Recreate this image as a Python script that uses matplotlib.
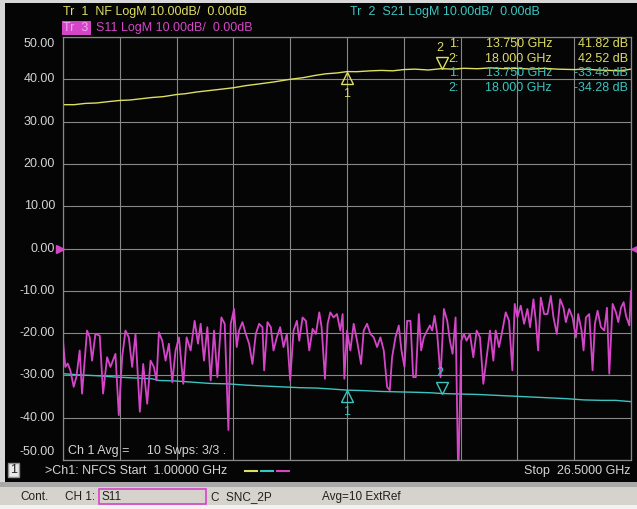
import numpy as np
import matplotlib
matplotlib.use("Agg")
import matplotlib.pyplot as plt
import matplotlib.transforms as mtransforms
from matplotlib.patches import Rectangle

plt.rcParams['font.family'] = ['Liberation Sans', 'DejaVu Sans']

# ---- sweep / marker data ----
f_start, f_stop = 1.0, 26.5
marker_f = [13.75, 18.0]
marker_nf = [41.82, 42.52]
marker_s21 = [-33.48, -34.28]

# Tr 1  NF (dB)
nf_f = [1.0, 1.5, 2.0, 2.5, 3.0, 3.55, 4.0, 4.5, 5.0, 5.5, 6.1, 6.5, 7.0, 7.5, 8.0,
        8.65, 9.2, 9.8, 10.5, 11.2, 11.8, 12.3, 12.8, 13.3, 13.75, 14.2, 14.8, 15.3,
        15.8, 16.3, 16.8, 17.4, 18.0, 18.5, 19.0, 19.6, 20.2, 20.8, 21.4, 22.0, 22.6,
        23.2, 23.95, 24.5, 25.0, 25.5, 26.0, 26.5]
nf_db = [34.0, 34.0, 34.3, 34.4, 34.7, 35.0, 35.1, 35.4, 35.7, 35.9, 36.4, 36.6, 37.0,
         37.3, 37.6, 38.0, 38.5, 38.9, 39.4, 40.0, 40.4, 40.9, 41.3, 41.5, 41.82, 41.8,
         42.0, 42.1, 42.0, 42.3, 42.4, 42.2, 42.52, 42.4, 42.6, 42.5, 42.7, 42.5, 42.6,
         42.4, 42.6, 42.4, 42.3, 42.4, 42.2, 42.1, 42.0, 42.4]

# Tr 2  S21 (dB)
s21_f = [1.0, 1.8, 2.6, 3.4, 4.2, 5.0, 5.3, 6.0, 6.8, 7.6, 8.4, 9.2, 10.0, 10.8, 11.6,
         12.4, 13.0, 13.75, 14.5, 15.3, 16.1, 16.9, 17.5, 18.0, 18.8, 19.6, 20.4, 21.2,
         22.0, 22.8, 23.6, 24.4, 25.2, 25.8, 26.5]
s21_db = [-29.6, -29.9, -30.1, -30.4, -30.6, -30.8, -31.2, -31.3, -31.6, -31.9, -32.0,
          -32.3, -32.5, -32.7, -32.9, -33.0, -33.2, -33.48, -33.6, -33.8, -33.9, -34.0,
          -34.1, -34.28, -34.4, -34.5, -34.7, -34.9, -35.1, -35.3, -35.5, -35.8, -35.9,
          -35.9, -36.2]

# Tr 3  S11 (dB)
s11_f = [1.00, 1.105, 1.21, 1.33, 1.48, 1.60, 1.75, 1.855, 2.08, 2.20, 2.305, 2.455, 2.65,
         2.80, 2.98, 3.13, 3.355, 3.505, 3.655, 3.805, 3.955, 4.105, 4.255, 4.45, 4.60,
         4.78, 4.93, 5.08, 5.20, 5.305, 5.455, 5.605, 5.755, 5.905, 6.055, 6.205, 6.40,
         6.55, 6.73, 6.91, 7.06, 7.18, 7.33, 7.48, 7.63, 7.78, 7.93, 8.11, 8.26, 8.425,
         8.53, 8.68, 8.80, 8.905, 9.055, 9.205, 9.355, 9.505, 9.655, 9.805, 9.955, 10.03,
         10.18, 10.33, 10.45, 10.60, 10.75, 10.90, 11.05, 11.20, 11.35, 11.50, 11.605,
         11.755, 11.905, 12.055, 12.205, 12.355, 12.505, 12.61, 12.76, 12.88, 13.00,
         13.15, 13.30, 13.45, 13.555, 13.63, 13.75, 13.90, 14.05, 14.20, 14.38, 14.50,
         14.65, 14.80, 14.95, 15.10, 15.25, 15.40, 15.55, 15.67, 15.775, 15.925, 16.075,
         16.195, 16.33, 16.45, 16.60, 16.72, 16.84, 16.975, 17.08, 17.20, 17.35, 17.47,
         17.575, 17.68, 17.80, 17.95, 18.10, 18.25, 18.37, 18.49, 18.625, 18.745, 18.88,
         19.00, 19.12, 19.27, 19.42, 19.57, 19.72, 19.87, 20.02, 20.17, 20.32, 20.425,
         20.575, 20.725, 20.875, 21.025, 21.175, 21.28, 21.40, 21.55, 21.70, 21.85, 21.97,
         22.12, 22.225, 22.33, 22.45, 22.60, 22.75, 22.90, 23.02, 23.17, 23.32, 23.47,
         23.575, 23.725, 23.875, 24.025, 24.13, 24.28, 24.37, 24.475, 24.625, 24.775,
         24.88, 25.00, 25.15, 25.30, 25.42, 25.525, 25.675, 25.825, 25.93, 26.05, 26.17,
         26.275, 26.425, 26.5]
s11_db = [-21.8, -28.0, -27.2, -28.8, -32.7, -30.4, -24.1, -34.3, -19.4, -21.0, -26.5,
          -20.2, -20.6, -34.3, -25.7, -28.0, -24.9, -39.4, -25.7, -19.4, -21.0, -28.0,
          -20.2, -38.6, -27.3, -36.7, -26.5, -28.0, -31.2, -19.8, -21.8, -26.5, -22.5,
          -31.6, -24.1, -21.0, -32.0, -21.0, -24.1, -17.1, -22.5, -17.8, -26.5, -18.6,
          -31.2, -19.4, -30.4, -16.3, -17.8, -42.9, -17.8, -14.3, -23.3, -19.4, -17.4,
          -20.2, -22.5, -27.3, -20.2, -17.8, -18.6, -28.8, -17.4, -18.6, -24.1, -21.0,
          -18.6, -23.3, -20.2, -31.2, -19.4, -17.1, -21.8, -16.3, -17.1, -24.1, -19.0,
          -20.2, -15.1, -18.6, -30.8, -17.8, -15.1, -16.3, -15.5, -19.4, -15.5, -30.8,
          -19.4, -24.1, -17.8, -21.8, -27.3, -19.4, -17.8, -20.2, -21.0, -23.3, -21.0,
          -24.1, -32.7, -33.5, -25.7, -21.0, -18.2, -24.1, -28.0, -17.1, -17.1, -30.4,
          -30.4, -15.5, -24.1, -21.0, -19.4, -18.2, -19.4, -15.9, -20.2, -30.4, -14.3,
          -17.1, -21.8, -24.9, -16.3, -55.0, -21.8, -20.2, -21.8, -20.2, -25.7, -19.4,
          -21.0, -32.0, -25.7, -19.4, -26.5, -19.4, -23.3, -19.4, -15.1, -17.1, -28.8,
          -13.1, -16.3, -13.5, -17.8, -14.3, -18.6, -12.0, -17.1, -24.1, -11.6, -15.5,
          -15.5, -11.2, -16.3, -20.2, -12.0, -14.0, -17.4, -14.3, -16.3, -21.0, -15.5,
          -19.4, -24.1, -16.3, -15.5, -28.8, -17.8, -14.7, -18.6, -19.4, -14.0, -29.6,
          -13.1, -15.1, -17.4, -14.0, -12.7, -15.9, -18.2, -10.0]

ytick_vals = [50, 40, 30, 20, 10, 0, -10, -20, -30, -40, -50]

YEL = '#dede62'
CYN = '#3cc4c0'
MAG = '#d545c8'
GRID = '#888888'
TXT = '#d4d4d4'

W, H = 637, 509
fig = plt.figure(figsize=(W / 100, H / 100), dpi=100)
fig.patch.set_facecolor('#d8d8d8')


def fig_rect(x0, y0, x1, y1, **kw):
    # rectangle in pixel coords measured from the top-left corner
    kw.setdefault('zorder', -5)
    r = Rectangle((x0 / W, 1 - y1 / H), (x1 - x0) / W, (y1 - y0) / H,
                  transform=fig.transFigure, **kw)
    fig.add_artist(r)
    return r


# black screen, gray separator, status bar
fig_rect(5, 3, 637, 482, facecolor='#050505', edgecolor='none')
fig_rect(0, 482, 637, 487, facecolor='#a9a9a9', edgecolor='none')
fig_rect(0, 487, 637, 505, facecolor='#d6d3cc', edgecolor='none')
fig_rect(0, 505, 637, 509, facecolor='#f2f2f2', edgecolor='none')

L, R, T, B = 63, 631, 37, 460
ax = fig.add_axes([L / W, (H - B) / H, (R - L) / W, (B - T) / H])
ax.set_facecolor('#050505')
ax.set_xlim(f_start, f_stop)
ax.set_ylim(-50, 50)
ax.set_xticks(np.linspace(f_start, f_stop, 11))
ax.set_yticks(ytick_vals)
ax.grid(True, color=GRID, linewidth=0.8)
ax.tick_params(length=0, labelleft=False, labelbottom=False)
for s in ax.spines.values():
    s.set_color(GRID)
    s.set_linewidth(0.9)

ax.plot(nf_f, nf_db, color=YEL, linewidth=1.0)
ax.plot(s21_f, s21_db, color=CYN, linewidth=1.0)
ax.plot(s11_f, s11_db, color=MAG, linewidth=1.3)

# y labels (the end ones are pulled inside the screen like on the analyzer)
ylab_tr = mtransforms.blended_transform_factory(fig.transFigure, ax.transData)
for v in ytick_vals:
    dy = 0
    if v == 50:
        dy = -7
    elif v == -50:
        dy = 8
    ax.annotate(f"{v:.2f}", xy=(55 / W, v), xycoords=ylab_tr, xytext=(0, dy),
                textcoords='offset pixels', ha='right', va='center',
                color=TXT, fontsize=9, annotation_clip=False)

# reference arrows at 0 dB
ax.plot([59.5 / W], [0], transform=ylab_tr, marker='>', color=MAG, markersize=6,
        clip_on=False, linestyle='none')
ax.plot([634.5 / W], [0], transform=ylab_tr, marker='<', color=MAG, markersize=6,
        clip_on=False, linestyle='none')

# markers: triangle tip sits on the trace
up = mtransforms.offset_copy(ax.transData, fig=fig, y=-6, units='dots')
dn = mtransforms.offset_copy(ax.transData, fig=fig, y=6, units='dots')
for vals, col in [(marker_nf, YEL), (marker_s21, CYN)]:
    ax.plot([marker_f[0]], [vals[0]], transform=up, marker='^', markersize=9,
            markerfacecolor='none', markeredgecolor=col, markeredgewidth=1.0,
            linestyle='none')
    ax.annotate('1', xy=(marker_f[0], vals[0]), xytext=(0, -16), textcoords='offset pixels',
                ha='center', va='top', color=col, fontsize=9)
    ax.plot([marker_f[1]], [vals[1]], transform=dn, marker='v', markersize=9,
            markerfacecolor='none', markeredgecolor=col, markeredgewidth=1.0,
            linestyle='none')
    ax.annotate('2', xy=(marker_f[1], vals[1]), xytext=(-2, 15), textcoords='offset pixels',
                ha='center', va='bottom', color=col, fontsize=9)

# marker readout table
rows = [('1:', marker_f[0], marker_nf[0], YEL), ('2:', marker_f[1], marker_nf[1], YEL),
        ('1:', marker_f[0], marker_s21[0], CYN), ('2:', marker_f[1], marker_s21[1], CYN)]
for i, (lab, fr, val, col) in enumerate(rows):
    yy = 1 - (44 + 14.7 * i) / H
    fig.text(459 / W, yy, lab, color=col, fontsize=9, ha='right', va='center')
    fig.text(552 / W, yy, f"{fr:.3f} GHz", color=col, fontsize=9, ha='right', va='center')
    fig.text(628 / W, yy, f"{val:.2f} dB", color=col, fontsize=9, ha='right', va='center')

# trace headers
fig.text(63 / W, 1 - 12 / H, "Tr  1  NF LogM 10.00dB/  0.00dB", color=YEL, fontsize=9,
         va='center')
fig.text(350 / W, 1 - 12 / H, "Tr  2  S21 LogM 10.00dB/  0.00dB", color=CYN, fontsize=9,
         va='center')
fig_rect(62, 21, 91, 35, facecolor=MAG, edgecolor='none', zorder=1)
fig.text(63 / W, 1 - 28 / H, "Tr  3", color='#f0a8f0', fontsize=9, va='center')
fig.text(96 / W, 1 - 28 / H, "S11 LogM 10.00dB/  0.00dB", color=MAG, fontsize=9,
         va='center')

# averaging note inside grid
fig.text(68 / W, 1 - 451 / H, "Ch 1 Avg =     10 Swps: 3/3 .", color=TXT, fontsize=9,
         va='center')

# channel line
fig_rect(8, 463, 19, 477, facecolor='#e8e8e8', edgecolor='#909090', zorder=1)
fig.text(13.5 / W, 1 - 470 / H, "1", color='#202020', fontsize=9, ha='center', va='center')
fig.text(45 / W, 1 - 471 / H, ">Ch1: NFCS Start  1.00000 GHz", color=TXT, fontsize=9,
         va='center')
for i, col in enumerate([YEL, CYN, MAG]):
    x0 = 245 + i * 16
    fig.add_artist(plt.Line2D([x0 / W, (x0 + 12) / W], [1 - 471 / H] * 2, color=col,
                              linewidth=1.5, transform=fig.transFigure))
fig.text(630 / W, 1 - 471 / H, "Stop  26.5000 GHz", color=TXT, fontsize=9, ha='right',
         va='center')

# status bar
sb_y = 1 - 497 / H
fig.text(20 / W, sb_y, "Cont.", color='#202020', fontsize=8.5, va='center')
fig.text(65 / W, sb_y, "CH 1:", color='#202020', fontsize=8.5, va='center')
fig_rect(99, 489, 206, 504, facecolor='none', edgecolor=MAG, linewidth=1.2, zorder=1)
fig.text(102 / W, sb_y, "S11", color='#202020', fontsize=8.5, va='center')
fig.text(211 / W, sb_y, "C  SNC_2P", color='#202020', fontsize=8.5, va='center')
fig.text(322 / W, sb_y, "Avg=10 ExtRef", color='#202020', fontsize=8.5, va='center')

fig.savefig("out.png", dpi=100, facecolor=fig.get_facecolor())
